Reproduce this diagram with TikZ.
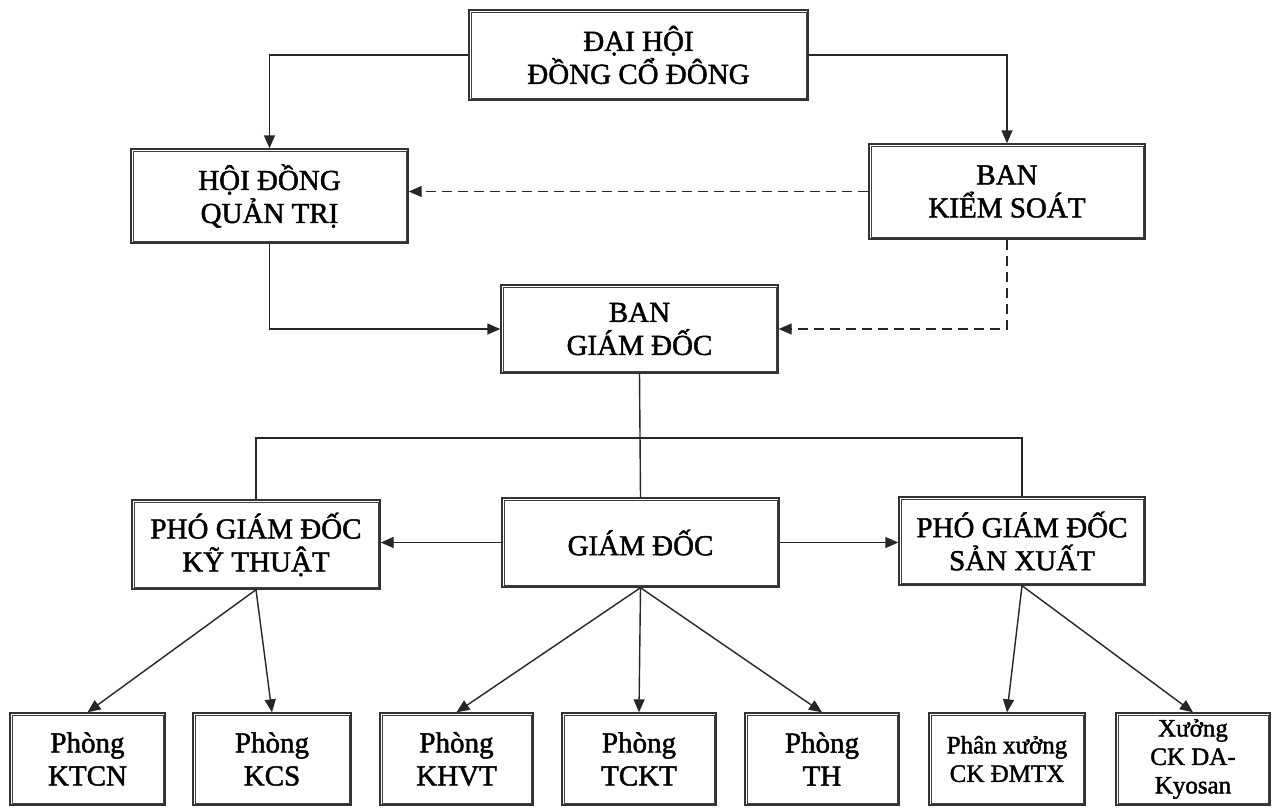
\documentclass[tikz,border=0pt]{standalone}
\usepackage{fontspec}
\setmainfont{Liberation Serif}
\newfontfamily\inkfont[FakeBold=1.6]{Liberation Serif}
\usetikzlibrary{arrows.meta}
\tikzset{
  box/.style={draw=black!80, line width=1.4pt, fill=white, align=center,
    inner sep=0pt, text=black, font=\inkfont\fontsize{29}{33}\selectfont},
  smallbox/.style={box, font=\inkfont\fontsize{25}{28.5}\selectfont},
  innerline/.style={draw=black!75, line width=0.6pt},
  conn/.style={draw=black!85, line width=1.4pt},
  arr/.style={conn, -{Triangle[length=13pt,width=11pt]}},
  dasharr/.style={arr, dash pattern=on 10pt off 6pt}
}
\begin{document}
\begin{tikzpicture}[x=1pt,y=-1pt]
\useasboundingbox[fill=white] (0,0) rectangle (1273,807);
% top level
\node[box, minimum width=339pt, minimum height=90pt] (dh) at (638.5,55) {ĐẠI HỘI\\ĐỒNG CỔ ĐÔNG};
\node[box, minimum width=277pt, minimum height=94pt] (hd) at (269.5,196) {HỘI ĐỒNG\\QUẢN TRỊ};
\node[box, minimum width=276pt, minimum height=95pt] (bks) at (1007,191.5) {BAN\\KIỂM SOÁT};
\node[box, minimum width=277pt, minimum height=88pt] (bgd) at (639.5,329) {BAN\\GIÁM ĐỐC};
% middle level
\node[box, minimum width=248pt, minimum height=89pt] (pkt) at (256,544.5) {PHÓ GIÁM ĐỐC\\KỸ THUẬT};
\node[box, minimum width=277pt, minimum height=89pt] (gd) at (640.5,542.5) {GIÁM ĐỐC};
\node[box, minimum width=246pt, minimum height=88pt] (psx) at (1022,541) {PHÓ GIÁM ĐỐC\\SẢN XUẤT};
% bottom level
\node[box, minimum width=155pt, minimum height=92pt] (ktcn) at (87.5,759) {Phòng\\KTCN};
\node[box, minimum width=158pt, minimum height=92pt] (kcs) at (272,759) {Phòng\\KCS};
\node[box, minimum width=153pt, minimum height=92pt] (khvt) at (456.5,759) {Phòng\\KHVT};
\node[box, minimum width=154pt, minimum height=92pt] (tckt) at (639,759) {Phòng\\TCKT};
\node[box, minimum width=154pt, minimum height=92pt] (th) at (822,759) {Phòng\\TH};
\node[smallbox, minimum width=156pt, minimum height=92pt] (px) at (1007,759) {Phân xưởng\\CK ĐMTX};
\node[smallbox, minimum width=154pt, minimum height=92pt] (xg) at (1193,759) {Xưởng\\CK DA-\\Kyosan};
% inner lines of the double borders
\foreach \n in {dh,hd,bks,bgd,pkt,gd,psx,ktcn,kcs,khvt,tckt,th,px,xg}
  \draw[innerline] ([shift={(2.6pt,-2.6pt)}]\n.north west) rectangle ([shift={(-2.6pt,2.6pt)}]\n.south east);
\coordinate (bar) at (639,438);
% connectors
\draw[arr] (dh.west) -| (hd.north);
\draw[arr] (dh.east) -| (bks.north);
\draw[dasharr] (bks.west) -- (bks.west -| hd.east);
\draw[arr] (hd.south) |- (bgd.west);
\draw[dasharr] (bks.south) |- (bgd.east);
\draw[conn] (bgd.south) -- (gd.north);
\draw[conn] (pkt.north) |- (bar) -| (psx.north);
\draw[arr] (gd.west) -- (gd.west -| pkt.east);
\draw[arr] (gd.east) -- (gd.east -| psx.west);
\draw[arr] (pkt.south) -- (ktcn.north);
\draw[arr] (pkt.south) -- (kcs.north);
\draw[arr] (gd.south) -- (khvt.north);
\draw[arr] (gd.south) -- (tckt.north);
\draw[arr] (gd.south) -- (th.north);
\draw[arr] (psx.south) -- (px.north);
\draw[arr] (psx.south) -- (xg.north);
\end{tikzpicture}
\end{document}
